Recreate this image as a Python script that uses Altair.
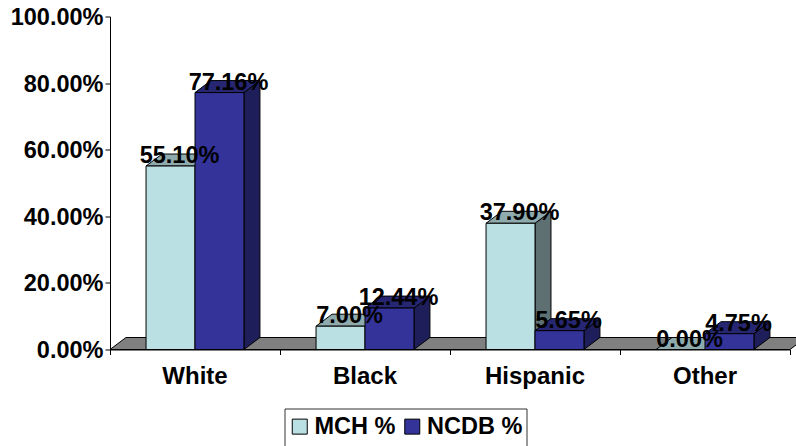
import altair as alt
import pandas as pd

# Values in percent
categories = ["White", "Black", "Hispanic", "Other"]
mch_values = [55.10, 7.00, 37.90, 0.00]
ncdb_values = [77.16, 12.44, 5.65, 4.75]
y_ticks = [0, 0.2, 0.4, 0.6, 0.8, 1.0]

FONT = "Liberation Sans"
BAR_W = 0.288      # bar width, in category steps
DEPTH_X = 0.094    # oblique depth along x, in category steps
DEPTH_Y = 0.036    # oblique depth along y, as a share

series = [
    ("MCH %", mch_values, -BAR_W, "#BBE0E3", "#8EAAAD", "#5F7072"),
    ("NCDB %", ncdb_values, 0.0, "#333399", "#262673", "#1E1E5A"),
]

x_scale = alt.Scale(domain=[0, 4], nice=False, zero=False)
y_scale = alt.Scale(domain=[0, 1], nice=False)

x_enc = alt.X("x:Q", scale=x_scale)
y_enc = alt.Y("y:Q", scale=y_scale)


def face_layer(rows, fill, stroke="black"):
    """Oblique polygon: an area running between a lower and an upper edge."""
    return (
        alt.Chart(pd.DataFrame(rows))
        .mark_area(fill=fill, stroke=stroke, strokeWidth=1, orient="vertical", opacity=1)
        .encode(x=x_enc, y=y_enc, y2="y2:Q", detail="face:N")
    )


# Axes come first so the floor and the bars paint over them
axes = (
    alt.Chart(pd.DataFrame({"x": [0], "y": [0]}))
    .mark_point(opacity=0)
    .encode(
        x=alt.X(
            "x:Q",
            scale=x_scale,
            axis=alt.Axis(
                values=[0, 1, 2, 3, 4], labels=False, title=None, grid=False,
                tickSize=5, tickColor="black", domainColor="black",
            ),
        ),
        y=alt.Y(
            "y:Q",
            scale=y_scale,
            axis=alt.Axis(
                values=y_ticks, format=".2%", title=None, grid=False,
                tickSize=5, tickColor="black", domainColor="black",
                labelFont=FONT, labelFontSize=23.5, labelFontWeight="bold",
                labelColor="black", labelPadding=2, labelOffset=1,
            ),
        ),
    )
)

# Floor under the bars
floor = face_layer(
    [
        {"face": "floor", "x": 0, "y": 0, "y2": 0},
        {"face": "floor", "x": DEPTH_X, "y": 0, "y2": DEPTH_Y},
        {"face": "floor", "x": 4, "y": 0, "y2": DEPTH_Y},
        {"face": "floor", "x": 4 + DEPTH_X, "y": DEPTH_Y, "y2": DEPTH_Y},
    ],
    "#808080",
)

layers = [axes, floor]
legend = alt.Legend(
    title=None, orient="none", legendX=178, legendY=398, direction="horizontal",
    columns=2, symbolType="square", symbolSize=225, symbolStrokeColor="black",
    symbolStrokeWidth=1, labelFont=FONT, labelFontSize=23.5, labelFontWeight="bold",
    labelColor="black", labelOffset=3, columnPadding=4.5, padding=0, labelLimit=200,
)
color_scale = alt.Scale(
    domain=[s[0] for s in series], range=[s[3] for s in series]
)

label_rows = []
for name, values, offset, front, top, side in series:
    top_rows, side_rows, front_rows = [], [], []
    for i, pct in enumerate(values):
        v = pct / 100
        left = i + 0.5 + offset
        right = left + BAR_W
        top_rows += [
            {"face": i, "x": left, "y": v, "y2": v},
            {"face": i, "x": left + DEPTH_X, "y": v, "y2": v + DEPTH_Y},
            {"face": i, "x": right, "y": v, "y2": v + DEPTH_Y},
            {"face": i, "x": right + DEPTH_X, "y": v + DEPTH_Y, "y2": v + DEPTH_Y},
        ]
        side_rows += [
            {"face": i, "x": right, "y": 0, "y2": v},
            {"face": i, "x": right + DEPTH_X, "y": DEPTH_Y, "y2": v + DEPTH_Y},
        ]
        front_rows.append({"series": name, "x": left, "x2": right, "y": 0, "y2": v})
        label_rows.append({"x": (left + right) / 2, "y": v, "text": f"{pct:.2f}%"})
    layers += [
        face_layer(side_rows, side),
        face_layer(top_rows, top),
        alt.Chart(pd.DataFrame(front_rows))
        .mark_rect(stroke="black", strokeWidth=1)
        .encode(
            x=x_enc, x2="x2:Q", y=y_enc, y2="y2:Q",
            color=alt.Color("series:N", scale=color_scale, legend=legend),
        ),
    ]

# Value labels over the bars
value_labels = (
    alt.Chart(pd.DataFrame(label_rows))
    .mark_text(
        font=FONT, fontSize=23.5, fontWeight="bold", color="black",
        baseline="alphabetic", dx=9, dy=-3,
    )
    .encode(x=x_enc, y=y_enc, text="text:N")
)

# Category names under the axis
category_labels = (
    alt.Chart(pd.DataFrame({"x": [i + 0.5 for i in range(len(categories))], "name": categories}))
    .mark_text(font=FONT, fontSize=24, fontWeight="bold", color="black", baseline="alphabetic")
    .encode(x=x_enc, y=alt.value(367.5), text="name:N")
)

# Frame around the legend entries, running off the bottom edge
legend_frame = (
    alt.Chart(pd.DataFrame({"a": [0]}))
    .mark_rect(fill=None, stroke="#333333", strokeWidth=1)
    .encode(x=alt.value(175), x2=alt.value(417), y=alt.value(392.5), y2=alt.value(445))
)

chart = (
    alt.layer(*layers, value_labels, category_labels, legend_frame)
    .properties(
        width=680, height=333, background="white",
        autosize=alt.AutoSizeParams(type="none"),
        padding={"left": 110, "top": 16.5, "right": 6, "bottom": 96.5},
    )
    .configure_view(stroke=None)
)

chart.save("out.html", embed_options={"renderer": "svg", "actions": False})
